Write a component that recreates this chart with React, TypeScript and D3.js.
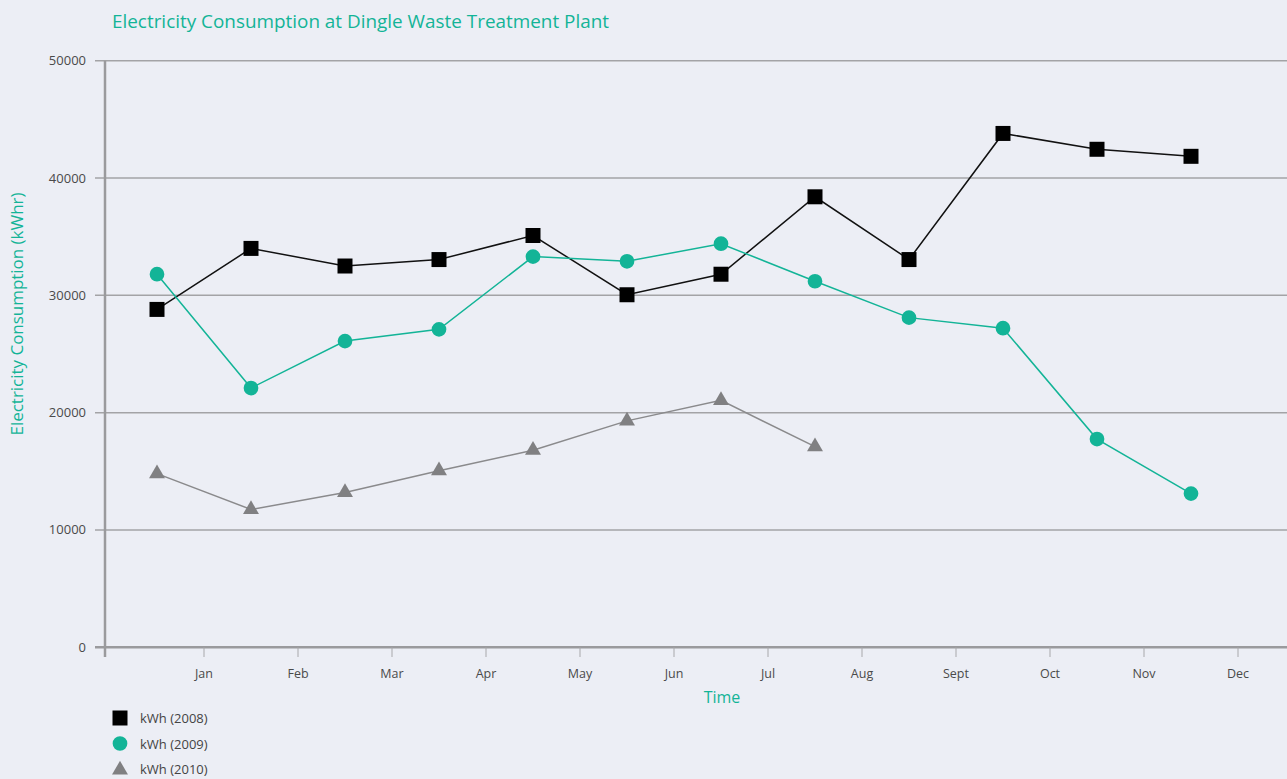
import React from 'react';
import { scaleBand, scaleLinear, line, symbol, symbolSquare, symbolCircle, symbolTriangle } from 'd3';

const months = ['Jan', 'Feb', 'Mar', 'Apr', 'May', 'Jun', 'Jul', 'Aug', 'Sept', 'Oct', 'Nov', 'Dec'];
const kwh2008 = [28800, 34000, 32500, 33050, 35100, 30050, 31800, 38400, 33050, 43800, 42450, 41850];
const kwh2009 = [31800, 22100, 26100, 27100, 33300, 32900, 34400, 31200, 28100, 27200, 17750, 13100];
const kwh2010 = [14800, 11750, 13200, 15050, 16800, 19300, 21050, 17100];
const yTicks = [0, 10000, 20000, 30000, 40000, 50000];
const seriesNames = ['kWh (2008)', 'kWh (2009)', 'kWh (2010)'];

const dimensions = {
    width: 1287,
    height: 779,
    axisX: 105,
    gridLeft: 95,
    plotLeft: 110,
    plotRight: 1238,
    top: 60.7,
    bottom: 647.3,
};

const teal = '#13b497';
const font = '"Open Sans", "Noto Sans", sans-serif';

const App: React.FC = () => {
    const x = scaleBand<string>()
        .domain(months)
        .range([dimensions.plotLeft, dimensions.plotRight]);
    const y = scaleLinear()
        .domain([0, 50000])
        .range([dimensions.bottom, dimensions.top]);

    const px = (i: number) => x(months[i])! + x.bandwidth() / 2;
    const path = line<number>().x((_, i) => px(i)).y(d => y(d));

    const series = [
        { data: kwh2008, color: '#000000', line: '#111111', shape: symbol(symbolSquare, 225)() },
        { data: kwh2009, color: teal, line: teal, shape: symbol(symbolCircle, 170)() },
        { data: kwh2010, color: '#808082', line: '#8a8a8c', shape: symbol(symbolTriangle, 110)() },
    ];

    return (
        <svg width={dimensions.width} height={dimensions.height}
            style={{ position: 'absolute', left: 0, top: 0, background: '#eceef5' }}>
            <rect width={dimensions.width} height={dimensions.height} fill="#eceef5" />
            <text x={112} y={28} fill={teal} fontFamily={font} fontSize={18}
                textLength={497} lengthAdjust="spacingAndGlyphs">
                Electricity Consumption at Dingle Waste Treatment Plant
            </text>

            {/* gridlines + y labels */}
            {yTicks.map(t => (
                <g key={t}>
                    {t > 0 && <line x1={dimensions.gridLeft} x2={dimensions.width} y1={y(t)} y2={y(t)}
                        stroke="#a3a3a6" strokeWidth={1.5} />}
                    <text x={86} y={y(t) + 4.5} textAnchor="end" fill="#4a4a4a" fontFamily={font} fontSize={13}>{t}</text>
                </g>
            ))}

            {/* axes */}
            <line x1={dimensions.gridLeft} x2={dimensions.width} y1={y(0)} y2={y(0)} stroke="#9a9a9d" strokeWidth={2.5} />
            <line x1={dimensions.axisX} x2={dimensions.axisX} y1={dimensions.top} y2={657} stroke="#9a9a9d" strokeWidth={2.5} />
            {months.map(m => {
                const tx = x(m)! + x.bandwidth();
                return (
                    <g key={m}>
                        <line x1={tx} x2={tx} y1={y(0)} y2={657} stroke="#a8a8ab" strokeWidth={1} />
                        <text x={tx} y={678} textAnchor="middle" fill="#4a4a4a" fontFamily={font} fontSize={12.5}>{m}</text>
                    </g>
                );
            })}

            <text x={722} y={703} textAnchor="middle" fill={teal} fontFamily={font} fontSize={16}>Time</text>
            <text transform="translate(23, 314) rotate(-90)" textAnchor="middle" fill={teal}
                fontFamily={font} fontSize={16} textLength={243} lengthAdjust="spacingAndGlyphs">
                Electricity Consumption (kWhr)
            </text>

            {/* series */}
            {series.map((s, k) => (
                <g key={k}>
                    <path d={path(s.data)!} fill="none" stroke={s.line} strokeWidth={1.5} />
                    {s.data.map((d, i) => (
                        <path key={i} d={s.shape!} fill={s.color} transform={`translate(${px(i)}, ${y(d)})`} />
                    ))}
                </g>
            ))}

            {/* legend */}
            {series.map((s, k) => (
                <g key={k} transform={`translate(0, ${718 + k * 25.5})`}>
                    <path d={s.shape!} fill={s.color} transform={`translate(120, ${k === 2 ? 1 : 0})`} />
                    <text x={140} y={5} fill="#444" fontFamily={font} fontSize={13}>{seriesNames[k]}</text>
                </g>
            ))}
        </svg>
    );
};

export default App;
